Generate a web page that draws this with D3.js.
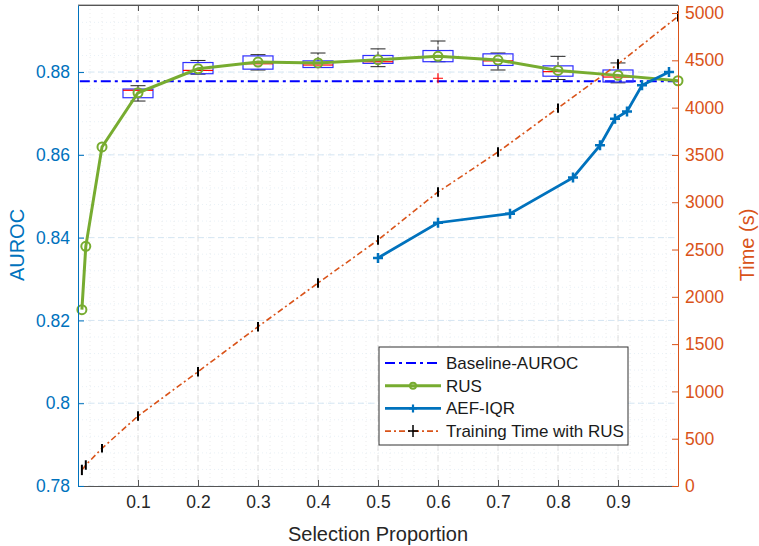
<!DOCTYPE html>
<html>
<head>
<meta charset="utf-8">
<script src="https://cdn.jsdelivr.net/npm/d3@7"></script>
<style>
  body { margin: 0; background: #fff; }
  text { font-family: "Liberation Sans", Arial, sans-serif; }
</style>
</head>
<body>
<div id="chart"></div>
<script>
// ---- data ----
const xProp     = [0.0065, 0.013, 0.04, 0.1, 0.2, 0.3, 0.4, 0.5, 0.6, 0.7, 0.8, 0.9, 1.0];
const rusAuroc  = [0.8226, 0.8379, 0.8619, 0.8750, 0.8808, 0.8824, 0.8822, 0.8830, 0.8838, 0.8829, 0.8804, 0.8792, 0.8779];
const trainTime = [170, 222, 398, 740, 1208, 1684, 2146, 2600, 3108, 3531, 3995, 4461, 4965];
const timeErr   = [55, 50, 45, 50, 50, 50, 50, 50, 50, 50, 50, 50, 55];

const aefX     = [0.5, 0.6, 0.72, 0.825, 0.87, 0.895, 0.915, 0.94, 0.985];
const aefAuroc = [0.8351, 0.8436, 0.8458, 0.8545, 0.8623, 0.8687, 0.8705, 0.8768, 0.8800];

const baselineAuroc = 0.8778;

// boxplot stats per selection proportion: lower whisker, q1, median, q3, upper whisker
const boxX    = [0.1, 0.2, 0.3, 0.4, 0.5, 0.6, 0.7, 0.8, 0.9];
const boxLo   = [0.8730, 0.8795, 0.8805, 0.8811, 0.8813, 0.8825, 0.8805, 0.8782, 0.8774];
const boxQ1   = [0.8738, 0.8796, 0.8807, 0.8811, 0.8821, 0.8825, 0.8816, 0.8790, 0.8776];
const boxMed  = [0.8756, 0.8804, 0.8820, 0.8817, 0.8825, 0.8837, 0.8827, 0.8801, 0.8788];
const boxQ3   = [0.8759, 0.8823, 0.8839, 0.8827, 0.8840, 0.8852, 0.8844, 0.8815, 0.8805];
const boxHi   = [0.8767, 0.8828, 0.8842, 0.8846, 0.8856, 0.8875, 0.8846, 0.8838, 0.8822];
const outliers = [{ x: 0.6, v: 0.8785 }];

const xTicks  = [0.1, 0.2, 0.3, 0.4, 0.5, 0.6, 0.7, 0.8, 0.9];
const yLTicks = [0.78, 0.80, 0.82, 0.84, 0.86, 0.88];
const yRTicks = [0, 500, 1000, 1500, 2000, 2500, 3000, 3500, 4000, 4500, 5000];

// ---- layout ----
const W = 759, H = 546;
const plot = { left: 78, right: 678, top: 5, bottom: 486 };
const blue = "#0072BD", orange = "#D95319", green = "#77AC30";

const svg = d3.select("#chart").append("svg")
    .attr("width", W).attr("height", H);

const x  = d3.scaleLinear().domain([0, 1]).range([plot.left, plot.right]);
const yL = d3.scaleLinear().domain([0.78, 0.8962]).range([plot.bottom, plot.top]);
const yR = d3.scaleLinear().domain([0, 5085]).range([plot.bottom, plot.top]);

// minor grid (dotted)
const grid = svg.append("g");
d3.range(0.02, 1, 0.02).forEach(v => {
    grid.append("line")
        .attr("x1", x(v)).attr("x2", x(v)).attr("y1", plot.top).attr("y2", plot.bottom)
        .attr("stroke", "#e6e6e6").attr("stroke-width", 0.8).attr("stroke-dasharray", "1,3");
});
d3.range(0.784, 0.896, 0.004).forEach(v => {
    grid.append("line")
        .attr("x1", plot.left).attr("x2", plot.right).attr("y1", yL(v)).attr("y2", yL(v))
        .attr("stroke", "#e3edf5").attr("stroke-width", 0.8).attr("stroke-dasharray", "1,3");
});
// major grid (dashed)
xTicks.forEach(v => {
    grid.append("line")
        .attr("x1", x(v)).attr("x2", x(v)).attr("y1", plot.top).attr("y2", plot.bottom)
        .attr("stroke", "#dedede").attr("stroke-width", 1).attr("stroke-dasharray", "6,4");
});
yLTicks.forEach(v => {
    grid.append("line")
        .attr("x1", plot.left).attr("x2", plot.right).attr("y1", yL(v)).attr("y2", yL(v))
        .attr("stroke", "#d5e6f3").attr("stroke-width", 1).attr("stroke-dasharray", "6,4");
});

// baseline
svg.append("line")
    .attr("x1", x(0.003)).attr("x2", x(1)).attr("y1", yL(baselineAuroc)).attr("y2", yL(baselineAuroc))
    .attr("stroke", "#0000FF").attr("stroke-width", 2).attr("stroke-dasharray", "10,4,3,4");

// boxplots
const boxes = svg.append("g");
const bw = 0.025, cw = 0.0125;
boxX.forEach((bx, i) => {
    boxes.append("line")
        .attr("x1", x(bx)).attr("x2", x(bx)).attr("y1", yL(boxQ3[i])).attr("y2", yL(boxHi[i]))
        .attr("stroke", "#222").attr("stroke-width", 1).attr("stroke-dasharray", "4,2");
    boxes.append("line")
        .attr("x1", x(bx)).attr("x2", x(bx)).attr("y1", yL(boxQ1[i])).attr("y2", yL(boxLo[i]))
        .attr("stroke", "#222").attr("stroke-width", 1).attr("stroke-dasharray", "4,2");
    [boxHi[i], boxLo[i]].forEach(v => {
        boxes.append("line")
            .attr("x1", x(bx - cw)).attr("x2", x(bx + cw)).attr("y1", yL(v)).attr("y2", yL(v))
            .attr("stroke", "#222").attr("stroke-width", 1);
    });
    boxes.append("rect")
        .attr("x", x(bx - bw)).attr("width", x(bx + bw) - x(bx - bw))
        .attr("y", yL(boxQ3[i])).attr("height", yL(boxQ1[i]) - yL(boxQ3[i]))
        .attr("fill", "none").attr("stroke", "#2f2fff").attr("stroke-width", 1.2);
    boxes.append("line")
        .attr("x1", x(bx - bw)).attr("x2", x(bx + bw)).attr("y1", yL(boxMed[i])).attr("y2", yL(boxMed[i]))
        .attr("stroke", "#ff0000").attr("stroke-width", 1.2);
});
outliers.forEach(o => {
    boxes.append("path")
        .attr("d", `M${x(o.x) - 5},${yL(o.v)}h10M${x(o.x)},${yL(o.v) - 5}v10`)
        .attr("stroke", "#ff0000").attr("stroke-width", 1.2);
});

// RUS line
const rusLine = d3.line().x((d, i) => x(xProp[i])).y(d => yL(d));
svg.append("path").datum(rusAuroc)
    .attr("d", rusLine).attr("fill", "none")
    .attr("stroke", green).attr("stroke-width", 3);
svg.selectAll(".rusdot").data(rusAuroc).enter().append("circle")
    .attr("cx", (d, i) => x(xProp[i])).attr("cy", d => yL(d)).attr("r", 4.5)
    .attr("fill", "none").attr("stroke", green).attr("stroke-width", 2);

// AEF-IQR line
const aefLine = d3.line().x((d, i) => x(aefX[i])).y(d => yL(d));
svg.append("path").datum(aefAuroc)
    .attr("d", aefLine).attr("fill", "none")
    .attr("stroke", blue).attr("stroke-width", 2.8);
svg.selectAll(".aefmk").data(aefAuroc).enter().append("path")
    .attr("d", (d, i) => `M${x(aefX[i]) - 5},${yL(d)}h10M${x(aefX[i])},${yL(d) - 5}v10`)
    .attr("stroke", blue).attr("stroke-width", 2.5);

// training time (right axis) with error bars
const timeLine = d3.line().x((d, i) => x(xProp[i])).y(d => yR(d));
svg.append("path").datum(trainTime)
    .attr("d", timeLine).attr("fill", "none")
    .attr("stroke", orange).attr("stroke-width", 1.6).attr("stroke-dasharray", "6,3,2,3");
svg.selectAll(".terr").data(trainTime).enter().append("line")
    .attr("x1", (d, i) => x(xProp[i])).attr("x2", (d, i) => x(xProp[i]))
    .attr("y1", (d, i) => yR(d - timeErr[i])).attr("y2", (d, i) => yR(d + timeErr[i]))
    .attr("stroke", "#000").attr("stroke-width", 2);

// ---- axes ----
const axisFont = 17.5;
const fontFam = "'Liberation Sans', Arial, sans-serif";
// frame top
svg.append("line").attr("x1", plot.left).attr("x2", plot.right).attr("y1", plot.top).attr("y2", plot.top)
    .attr("stroke", "#7a7a7a").attr("stroke-width", 1);

const xAxis = svg.append("g").attr("transform", `translate(0,${plot.bottom})`)
    .call(d3.axisBottom(x).tickValues(xTicks).tickSize(-6).tickSizeOuter(0).tickPadding(10)
        .tickFormat(d3.format(".1f")));
const xAxisTop = svg.append("g").attr("transform", `translate(0,${plot.top})`)
    .call(d3.axisTop(x).tickValues(xTicks).tickSize(-6).tickSizeOuter(0).tickFormat(""));
[xAxis, xAxisTop].forEach(a => {
    a.select(".domain").attr("stroke", "#555");
    a.selectAll(".tick line").attr("stroke", "#555");
});
xAxis.selectAll("text").attr("fill", "#262626").style("font-size", axisFont + "px")
    .style("font-family", fontFam);

const yAxisL = svg.append("g").attr("transform", `translate(${plot.left},0)`)
    .call(d3.axisLeft(yL).tickValues(yLTicks).tickSize(-6).tickSizeOuter(0).tickPadding(8)
        .tickFormat(d => d3.format(".2f")(d).replace(/0$/, "")));
yAxisL.select(".domain").attr("stroke", blue);
yAxisL.selectAll(".tick line").attr("stroke", blue);
yAxisL.selectAll("text").attr("fill", blue).style("font-size", axisFont + "px")
    .style("font-family", fontFam);

const yAxisR = svg.append("g").attr("transform", `translate(${plot.right},0)`)
    .call(d3.axisRight(yR).tickValues(yRTicks).tickSize(-6).tickSizeOuter(0).tickPadding(7)
        .tickFormat(d3.format("d")));
yAxisR.select(".domain").attr("stroke", orange);
yAxisR.selectAll(".tick line").attr("stroke", orange);
yAxisR.selectAll("text").attr("fill", orange).style("font-size", axisFont + "px")
    .style("font-family", fontFam);

// axis titles
svg.append("text").attr("x", (plot.left + plot.right) / 2).attr("y", 541)
    .attr("text-anchor", "middle").attr("fill", "#262626").style("font-size", "20px")
    .text("Selection Proportion");
svg.append("text").attr("transform", `translate(24,245) rotate(-90)`)
    .attr("text-anchor", "middle").attr("fill", blue).style("font-size", "20px")
    .text("AUROC");
svg.append("text").attr("transform", `translate(754,245) rotate(-90)`)
    .attr("text-anchor", "middle").attr("fill", orange).style("font-size", "20px")
    .text("Time (s)");

// ---- legend ----
const legend = svg.append("g").attr("transform", "translate(379,347)");
legend.append("rect").attr("width", 249).attr("height", 98)
    .attr("fill", "#fff").attr("stroke", "#333").attr("stroke-width", 1);

const legendItems = [
    { label: "Baseline-AUROC", color: "#0000FF", width: 2, dash: "10,4,3,4", marker: null },
    { label: "RUS", color: green, width: 3, dash: null, marker: "circle" },
    { label: "AEF-IQR", color: blue, width: 2.8, dash: null, marker: "plus" },
    { label: "Training Time with RUS", color: orange, width: 1.6, dash: "6,3,2,3", marker: "err" }
];
legendItems.forEach((item, i) => {
    const row = legend.append("g").attr("transform", `translate(0,${16 + i * 22.7})`);
    row.append("line").attr("x1", 6).attr("x2", 62).attr("y1", 0).attr("y2", 0)
        .attr("stroke", item.color).attr("stroke-width", item.width)
        .attr("stroke-dasharray", item.dash);
    if (item.marker === "circle") {
        row.append("circle").attr("cx", 34).attr("cy", 0).attr("r", 3)
            .attr("fill", "none").attr("stroke", item.color).attr("stroke-width", 2);
    } else if (item.marker === "plus") {
        row.append("path").attr("d", "M30,0h8M34,-4v8")
            .attr("stroke", item.color).attr("stroke-width", 2.2);
    } else if (item.marker === "err") {
        row.append("path").attr("d", "M29,0h10M34,-6v12")
            .attr("stroke", "#000").attr("stroke-width", 1.5);
    }
    row.append("text").attr("x", 67).attr("y", 0).attr("dy", "0.35em")
        .attr("fill", "#1a1a1a").style("font-size", "17px")
        .text(item.label);
});
</script>
</body>
</html>
